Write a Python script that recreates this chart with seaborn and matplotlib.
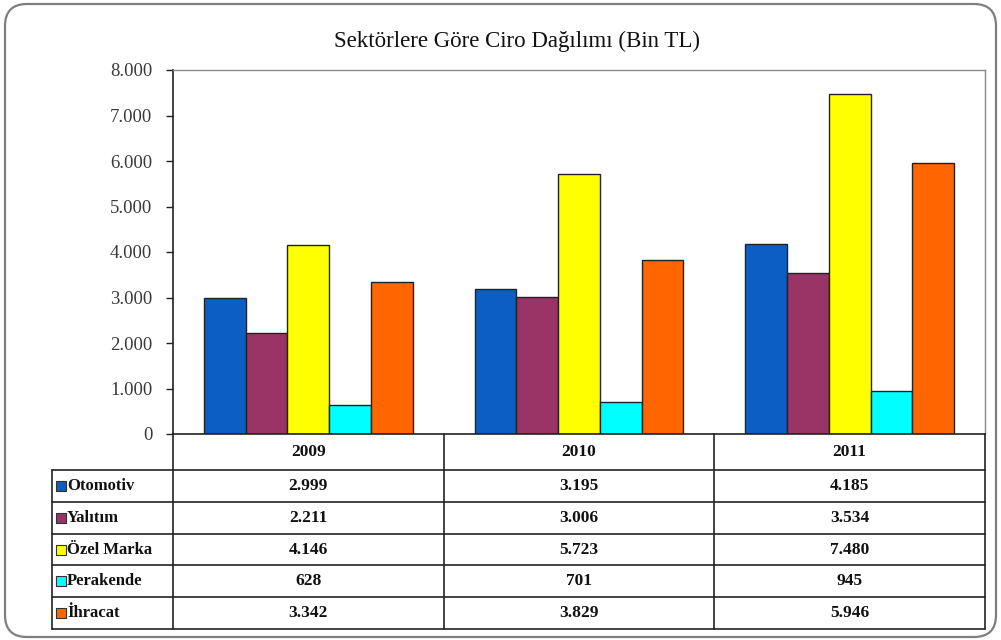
import pandas as pd
import matplotlib
matplotlib.use("Agg")
import matplotlib.pyplot as plt
from matplotlib.patches import FancyBboxPatch
from matplotlib.ticker import FuncFormatter, MultipleLocator
import seaborn as sns

# data
years = ["2009", "2010", "2011"]
sectors = ["Otomotiv", "Yalıtım", "Özel Marka", "Perakende", "İhracat"]
otomotiv = [2999, 3195, 4185]
yalitim = [2211, 3006, 3534]
ozel_marka = [4146, 5723, 7480]
perakende = [628, 701, 945]
ihracat = [3342, 3829, 5946]
colors = ["#0B5FC4", "#993366", "#FFFF00", "#00FFFF", "#FF6600"]

series = [otomotiv, yalitim, ozel_marka, perakende, ihracat]
rows = []
for name, vals in zip(sectors, series):
    for y, v in zip(years, vals):
        rows.append({"Yıl": y, "Sektör": name, "Ciro": v})
df = pd.DataFrame(rows)

sns.set_style("white")
plt.rcParams["font.family"] = ["Liberation Serif", "DejaVu Serif"]


def tr_fmt(v, pos=None):
    return f"{int(round(v)):,}".replace(",", ".")


W, H = 1001, 640
fig = plt.figure(figsize=(W / 100, H / 100), dpi=100)

# outer rounded frame
frame = FancyBboxPatch((0.05, 0.03), 9.91, 6.33,
                       boxstyle="round,pad=0,rounding_size=0.22",
                       transform=fig.dpi_scale_trans, fill=False,
                       edgecolor="#7f7f7f", linewidth=1.6)
fig.patches.append(frame)

# plot area in pixels
px_l, px_r, px_t, px_b = 173, 985, 70, 434
ax = fig.add_axes([px_l / W, 1 - px_b / H, (px_r - px_l) / W, (px_b - px_t) / H])

sns.barplot(data=df, x="Yıl", y="Ciro", hue="Sektör", order=years,
            hue_order=sectors, palette=colors, saturation=1, width=0.77,
            edgecolor="#222222", linewidth=1.0, legend=False, ax=ax)

ax.set_ylim(0, 8000)
ax.set_xlim(-0.5, 2.5)
ax.yaxis.set_major_locator(MultipleLocator(1000))
ax.yaxis.set_major_formatter(FuncFormatter(tr_fmt))
ax.set_xlabel("")
ax.set_ylabel("")
ax.set_xticks([])
ax.tick_params(axis="y", left=True, length=5, width=1, pad=10,
               labelsize=13.5, labelcolor="#3a3a3a", color="#222222")
for side in ["left", "bottom"]:
    ax.spines[side].set_color("#222222")
    ax.spines[side].set_linewidth(1.2)
for side in ["top", "right"]:
    ax.spines[side].set_color("#8a8a8a")
    ax.spines[side].set_linewidth(1.0)

fig.text(517 / W, 1 - 41 / H, "Sektörlere Göre Ciro Dağılımı (Bin TL)",
         ha="center", va="center", fontsize=16.5, color="#111111")

# data table under the bars
tb_l, tb_b = 52, 629
tax = fig.add_axes([tb_l / W, 1 - tb_b / H, (px_r - tb_l) / W, (tb_b - px_b) / H])
tax.set_xlim(tb_l, px_r)
tax.set_ylim(tb_b, px_b)
tax.axis("off")

col_w = (px_r - px_l) / len(years)
col_edges = [px_l + i * col_w for i in range(len(years) + 1)]
head_b = 470
row_h = (tb_b - head_b) / len(sectors)
row_edges = [head_b + i * row_h for i in range(len(sectors) + 1)]
lc = "#222222"

for x in col_edges:
    tax.plot([x, x], [px_b, tb_b], color=lc, lw=1.2, clip_on=False)
tax.plot([tb_l, tb_l], [head_b, tb_b], color=lc, lw=1.2, clip_on=False)
for y in row_edges:
    tax.plot([tb_l, px_r], [y, y], color=lc, lw=1.2, clip_on=False)

for i, yr in enumerate(years):
    cx = (col_edges[i] + col_edges[i + 1]) / 2
    tax.text(cx, (px_b + head_b) / 2, yr, ha="center", va="center",
             fontsize=12.5, fontweight="bold", color="#111111")
    for j, vals in enumerate(series):
        cy = (row_edges[j] + row_edges[j + 1]) / 2
        tax.text(cx, cy, tr_fmt(vals[i]), ha="center", va="center",
                 fontsize=12.5, fontweight="bold", color="#111111")

for j, (name, c) in enumerate(zip(sectors, colors)):
    cy = (row_edges[j] + row_edges[j + 1]) / 2
    tax.scatter([60.5], [cy], marker="s", s=60, color=c,
                edgecolors="#333333", linewidths=0.8, clip_on=False, zorder=3)
    tax.text(67, cy, name, ha="left", va="center", fontsize=12,
             fontweight="bold", color="#111111")

fig.savefig("out.png", dpi=100)
